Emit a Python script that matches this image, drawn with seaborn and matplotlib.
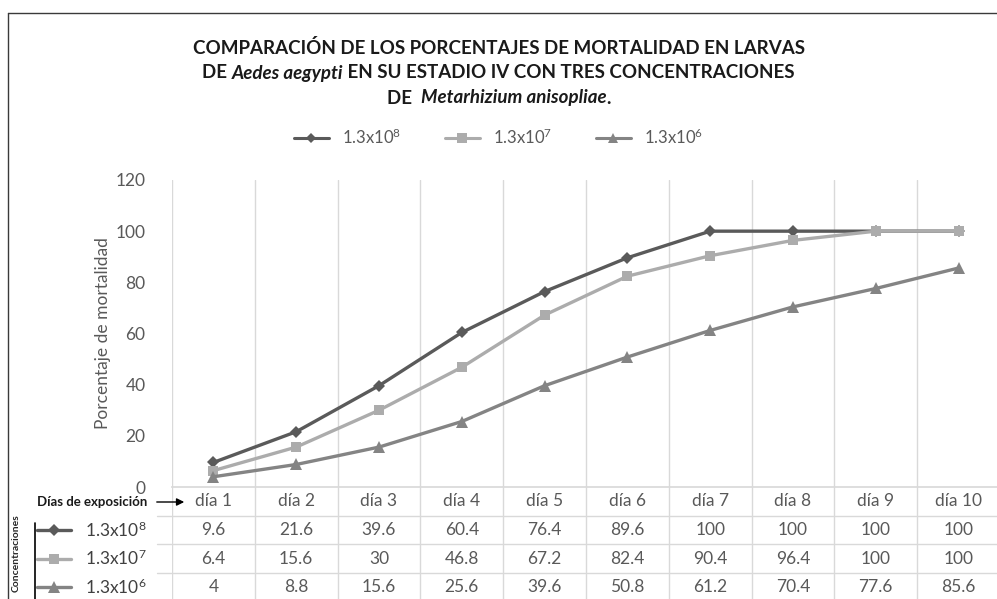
import numpy as np
import pandas as pd
import seaborn as sns
import matplotlib.pyplot as plt
from matplotlib.lines import Line2D
from matplotlib.patches import FancyArrowPatch

dias = ["día 1", "día 2", "día 3", "día 4", "día 5", "día 6", "día 7", "día 8", "día 9", "día 10"]
conc_labels = ["1.3x10$^{8}$", "1.3x10$^{7}$", "1.3x10$^{6}$"]
mort_e8 = [9.6, 21.6, 39.6, 60.4, 76.4, 89.6, 100, 100, 100, 100]
mort_e7 = [6.4, 15.6, 30, 46.8, 67.2, 82.4, 90.4, 96.4, 100, 100]
mort_e6 = [4, 8.8, 15.6, 25.6, 39.6, 50.8, 61.2, 70.4, 77.6, 85.6]
y_ticks = [0, 20, 40, 60, 80, 100, 120]

series = [mort_e8, mort_e7, mort_e6]
colors = ["#5a5a5a", "#acacac", "#848484"]
markers = ["D", "s", "^"]
msizes = [6, 7, 8]

sns.set_theme(style="white")
plt.rcParams["font.family"] = ["Lato", "DejaVu Sans"]
plt.rcParams["mathtext.fontset"] = "custom"
plt.rcParams["mathtext.rm"] = "Lato"
plt.rcParams["mathtext.it"] = "Lato:italic"
plt.rcParams["mathtext.bf"] = "Lato:bold"

W, H = 997, 599
fx = lambda px: px / W
fy = lambda py: 1 - py / H

fig = plt.figure(figsize=(W / 100, H / 100), dpi=100)
fig.patch.set_facecolor("white")

# main plot area
ax = fig.add_axes([fx(172), fy(487), (1000 - 172) / W, (487 - 180) / H])
x = np.arange(1, len(dias) + 1)
df = pd.DataFrame({
    "dia": np.tile(x, 3),
    "mort": np.concatenate(series),
    "conc": np.repeat(conc_labels, len(dias)),
})
sns.lineplot(data=df, x="dia", y="mort", hue="conc", style="conc",
             palette=dict(zip(conc_labels, colors)),
             markers=dict(zip(conc_labels, markers)),
             dashes=False, linewidth=2.4, markersize=7,
             markeredgewidth=0, ax=ax, legend=True, zorder=3)
for ln, ms in zip(ax.get_lines()[:3], msizes):
    ln.set_markersize(ms)

ax.set_xlim(0.5, 10.5)
ax.set_ylim(0, 120)
ax.set_yticks(y_ticks)
ax.set_xticks([])
ax.set_xlabel("")
ax.set_ylabel("")
for s in ["top", "right", "left"]:
    ax.spines[s].set_visible(False)
ax.spines["bottom"].set_color("#d9d9d9")
ax.tick_params(axis="y", length=0, pad=19, labelsize=12.5, labelcolor="#595959")
for b in np.arange(0.5, 11, 1):
    ax.axvline(b, color="#d9d9d9", lw=1, zorder=0)

fig.text(fx(103), fy(333), "Porcentaje de mortalidad", rotation=90,
         ha="center", va="center", fontsize=12.5, color="#595959")

# legend on top
handles, labels = ax.get_legend_handles_labels()
ax.get_legend().remove()
for h, ms in zip(handles, msizes):
    h.set_markersize(ms - 0.5)
    h.set_linewidth(2.2)
fig.legend(handles[-3:], labels[-3:], loc="center", bbox_to_anchor=(0.5, fy(137)),
           ncol=3, frameon=False, fontsize=12, labelcolor="#595959",
           handlelength=2.1, columnspacing=2.6, handletextpad=0.8)

# data table under the plot
row_h = 28.7
tab = fig.add_axes([fx(172), fy(487 + 4 * row_h), (1000 - 172) / W, 4 * row_h / H])
tab.set_xlim(0.5, 10.5)
tab.set_ylim(4, 0)
tab.axis("off")
for b in np.arange(0.5, 11, 1):
    tab.axvline(b, color="#d9d9d9", lw=1)
for r in [1, 2, 3]:
    tab.plot([0.32, 10.5], [r, r], color="#d9d9d9", lw=1, clip_on=False)
for i, d in enumerate(dias):
    tab.text(x[i], 0.5, d, ha="center", va="center", fontsize=12.5, color="#595959")
for r, vals in enumerate(series, start=1):
    for i, v in enumerate(vals):
        tab.text(x[i], r + 0.5, f"{v:g}", ha="center", va="center",
                 fontsize=12.5, color="#595959")

# row headers with legend keys
for r, (lab, c, m, ms) in enumerate(zip(conc_labels, colors, markers, msizes), start=1):
    yc = 487 + row_h * (r + 0.5)
    fig.add_artist(Line2D([fx(37), fx(71)], [fy(yc)] * 2, color=c, lw=2.4))
    fig.add_artist(Line2D([fx(54)], [fy(yc)], color=c, marker=m, markersize=ms,
                          markeredgewidth=0))
    fig.text(fx(85), fy(yc), lab, ha="left", va="center", fontsize=12.5, color="#404040")

fig.add_artist(Line2D([fx(35), fx(35)], [fy(523), fy(600)], color="black", lw=1.2))
fig.text(fx(16), fy(553), "Concentraciones", rotation=90, ha="center", va="center",
         fontsize=7.5, fontweight="bold", color="#262626")
fig.text(fx(147), fy(502), "Días de exposición", ha="right", va="center",
         fontsize=9.5, fontweight="bold", color="#1a1a1a")
fig.add_artist(FancyArrowPatch((fx(154), fy(502)), (fx(187), fy(502)),
                               transform=fig.transFigure, arrowstyle="-|>",
                               mutation_scale=11, color="black", lw=1))

# chart border (top and left visible)
fig.add_artist(Line2D([fx(8), fx(1000)], [fy(13), fy(13)], color="#3a3a3a", lw=1))
fig.add_artist(Line2D([fx(8), fx(8)], [fy(13), fy(600)], color="#3a3a3a", lw=1))

# title with italic species names, centred line by line
title_lines = [
    (48, [("COMPARACIÓN DE LOS PORCENTAJES DE MORTALIDAD EN LARVAS", "normal")]),
    (73, [("DE ", "normal"), ("Aedes aegypti", "italic"),
          (" EN SU ESTADIO IV CON TRES CONCENTRACIONES", "normal")]),
    (98, [("DE  ", "normal"), ("Metarhizium anisopliae", "italic"), (".", "normal")]),
]
renderer = fig.canvas.get_renderer()
for ypx, segs in title_lines:
    texts = [fig.text(0, fy(ypx), s, ha="left", va="center", fontsize=13.5,
                      fontweight="bold", style=st, color="#1a1a1a") for s, st in segs]
    widths = [t.get_window_extent(renderer).width for t in texts]
    x0 = (W - sum(widths)) / 2
    for t, w in zip(texts, widths):
        t.set_x(fx(x0))
        x0 += w

fig.savefig("out.png", dpi=100, facecolor="white")
